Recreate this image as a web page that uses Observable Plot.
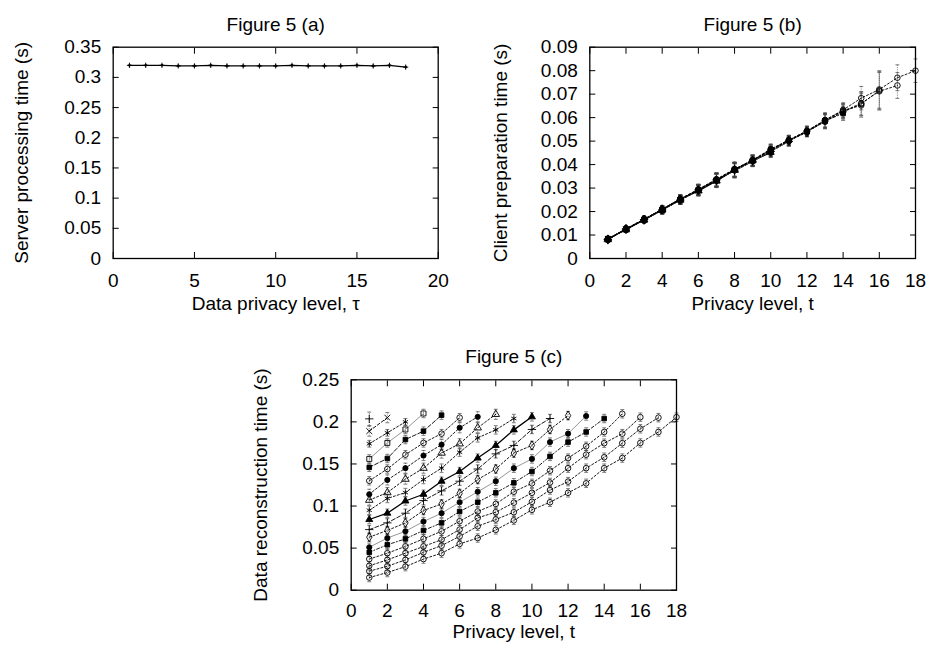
<!DOCTYPE html>
<html><head><meta charset="utf-8">
<script src="https://cdn.jsdelivr.net/npm/d3@7"></script>
<script src="https://cdn.jsdelivr.net/npm/@observablehq/plot@0.6"></script>
<style>
body{margin:0;background:#fff}
#wrap{position:relative;width:928px;height:649px;background:#fff}
.p{position:absolute}
</style>
</head><body><div id="wrap"></div>
<script>
// ---------- data ----------
const tLevels = [1,2,3,4,5,6,7,8,9,10,11,12,13,14,15,16,17,18];

// Figure 5 (a): server processing time vs data privacy level
const serverTime = [0.320,0.320,0.320,0.319,0.319,0.320,0.319,0.319,0.319,0.319,0.320,0.319,0.319,0.319,0.320,0.319,0.320,0.317];

// Figure 5 (b): client preparation time, series k covers t = 1..k
const clientTime = [
  [0.0080],
  [0.0083,0.0124],
  [0.0081,0.0126,0.0166],
  [0.0084,0.0123,0.0164,0.0205],
  [0.0080,0.0125,0.0167,0.0208,0.0251],
  [0.0082,0.0127,0.0165,0.0206,0.0248,0.0290],
  [0.0083,0.0124,0.0166,0.0210,0.0252,0.0292,0.0333],
  [0.0081,0.0126,0.0165,0.0207,0.0249,0.0289,0.0331,0.0376],
  [0.0082,0.0125,0.0168,0.0206,0.0250,0.0291,0.0334,0.0374,0.0413],
  [0.0083,0.0124,0.0164,0.0208,0.0253,0.0288,0.0330,0.0377,0.0416,0.0452],
  [0.0082,0.0126,0.0166,0.0207,0.0249,0.0292,0.0335,0.0373,0.0414,0.0456,0.0498],
  [0.0081,0.0125,0.0165,0.0209,0.0251,0.0290,0.0332,0.0378,0.0417,0.0454,0.0502,0.0538],
  [0.0083,0.0127,0.0167,0.0206,0.0250,0.0293,0.0336,0.0376,0.0415,0.0457,0.0499,0.0541,0.0582],
  [0.0082,0.0124,0.0166,0.0208,0.0252,0.0291,0.0334,0.0379,0.0418,0.0464,0.0503,0.0539,0.0586,0.0618],
  [0.0084,0.0126,0.0168,0.0210,0.0254,0.0295,0.0338,0.0381,0.0420,0.0466,0.0505,0.0543,0.0590,0.0630,0.0652],
  [0.0082,0.0125,0.0165,0.0207,0.0250,0.0292,0.0333,0.0377,0.0416,0.0458,0.0501,0.0540,0.0584,0.0624,0.0658,0.0716],
  [0.0083,0.0126,0.0167,0.0209,0.0253,0.0294,0.0336,0.0380,0.0419,0.0461,0.0504,0.0544,0.0587,0.0627,0.0661,0.0712,0.0737],
  [0.0082,0.0124,0.0166,0.0206,0.0251,0.0293,0.0335,0.0378,0.0417,0.0463,0.0502,0.0542,0.0589,0.0633,0.0683,0.0720,0.0770,0.0800]
];
// error half-widths for (b), by privacy level
const clientErr = [0.0010,0.0012,0.0013,0.0016,0.0018,0.0022,0.0028,0.0030,0.0022,0.0022,0.0020,0.0020,0.0030,0.0030,0.0050,0.0080,0.0055,0.0050];

// Figure 5 (c): data reconstruction time, series k covers t = 1..k
const reconTime = [
  [0.2036],
  [0.189,0.205],
  [0.174,0.187,0.200],
  [0.156,0.175,0.191,0.210],
  [0.146,0.1565,0.179,0.189,0.208],
  [0.130,0.144,0.161,0.175,0.186,0.205],
  [0.114,0.131,0.145,0.160,0.173,0.193,0.206],
  [0.107,0.116,0.132,0.145,0.163,0.174,0.193,0.209],
  [0.095,0.109,0.116,0.1315,0.145,0.164,0.181,0.1905,0.204],
  [0.084,0.0915,0.106,0.114,0.1295,0.141,0.157,0.172,0.1905,0.206],
  [0.072,0.080,0.0915,0.1065,0.118,0.1295,0.144,0.162,0.172,0.191,0.204],
  [0.063,0.071,0.080,0.0947,0.1025,0.115,0.1315,0.144,0.163,0.172,0.191,0.2075],
  [0.051,0.062,0.070,0.0816,0.0915,0.1045,0.117,0.1295,0.145,0.156,0.176,0.186,0.207],
  [0.045,0.054,0.061,0.071,0.080,0.0935,0.1045,0.1157,0.1276,0.141,0.159,0.176,0.188,0.204],
  [0.037,0.044,0.052,0.061,0.070,0.082,0.0935,0.1025,0.117,0.127,0.142,0.157,0.171,0.188,0.2096],
  [0.029,0.036,0.044,0.052,0.060,0.072,0.086,0.0927,0.104,0.1157,0.128,0.145,0.161,0.1747,0.186,0.2056],
  [0.0226,0.0285,0.036,0.045,0.053,0.064,0.076,0.084,0.0927,0.105,0.119,0.129,0.145,0.158,0.1747,0.1918,0.205],
  [0.015,0.021,0.028,0.037,0.044,0.055,0.062,0.0717,0.083,0.0955,0.1045,0.1157,0.127,0.145,0.157,0.175,0.188,0.2056]
];
// error half-widths for (c), by series
const reconErr = [0.008,0.006,0.004,0.005,0.005,0.005,0.006,0.006,0.005,0.005,0.005,0.005,0.005,0.005,0.005,0.005,0.005,0.005];

// tick labels
const aXTicks = [0,5,10,15,20];
const aYTicks = [0,0.05,0.1,0.15,0.2,0.25,0.3,0.35];
const bXTicks = [0,2,4,6,8,10,12,14,16,18];
const bYTicks = [0,0.01,0.02,0.03,0.04,0.05,0.06,0.07,0.08,0.09];
const cXTicks = [0,2,4,6,8,10,12,14,16,18];
const cYTicks = [0,0.05,0.1,0.15,0.2,0.25];

// series styles (gnuplot-like point types and dash types)
const seriesSymbol = ["plus","times","asterisk","square","square","circle","circle","triangle","asterisk","triangle","plus","diamond","circle","square","circle","circle","circle","circle"];
const seriesFill   = ["none","none","none","none","black","none","black","none","none","black","none","none","black","black","none","none","none","none"];
const seriesStroke = ["black","black","black","#8a8a8a","black","black","black","black","black","black","black","black","#8a8a8a","black","black","black","black","black"];
const seriesDash   = [null,"3,2","2,2",null,"4,2","2,2","2,2","2,2","2,2",null,"4,2","2,2",null,"3,2,1,2","2,2","2,2","2,2","2,2"];

// ---------- helpers ----------
const FONT = "Liberation Sans, Arial, Helvetica, sans-serif";
const fmt = d => String(d);
const capSym = {draw(ctx, size){ const w = Math.sqrt(size) * 0.55; ctx.moveTo(-w, 0); ctx.lineTo(w, 0); }};

function axesAndFrame(xT, yT, xPad) {
  return [
    Plot.axisX(xT, {anchor: "bottom", tickSize: 0, tickPadding: xPad, tickFormat: fmt, label: null}),
    Plot.axisY(yT, {anchor: "left", tickSize: 0, tickPadding: 12, tickFormat: fmt, label: null}),
    Plot.axisX(xT, {anchor: "bottom", tickSize: -6, tickFormat: () => "", label: null}),
    Plot.axisX(xT, {anchor: "top", tickSize: -6, tickFormat: () => "", label: null}),
    Plot.axisY(yT, {anchor: "left", tickSize: -6, tickFormat: () => "", label: null}),
    Plot.axisY(yT, {anchor: "right", tickSize: -6, tickFormat: () => "", label: null}),
    Plot.frame({stroke: "black", strokeWidth: 1.3})
  ];
}
function labels(title, xLabel, yLabel, yDx, xDy) {
  return [
    Plot.text([title], {frameAnchor: "top", dy: -30, fontSize: 19, fill: "black"}),
    Plot.text([xLabel], {frameAnchor: "bottom", dy: xDy, fontSize: 19, fill: "black"}),
    Plot.text([yLabel], {frameAnchor: "left", rotate: -90, dx: yDx, textAnchor: "middle", fontSize: 19, fill: "black"})
  ];
}
function place(chart, left, top) {
  const d = document.createElement("div");
  d.className = "p"; d.style.left = left + "px"; d.style.top = top + "px";
  d.appendChild(chart);
  document.getElementById("wrap").appendChild(d);
}
function buildRows(list, errFn) {
  const rows = [];
  list.forEach((vals, i) => vals.forEach((v, j) => rows.push({s: i, t: tLevels[j], v, e: errFn(i, j)})));
  return rows;
}
function seriesMarks(rows, nSeries, r, lw) {
  const marks = [];
  marks.push(Plot.ruleX(rows, {x: "t", y1: d => d.v - d.e, y2: d => d.v + d.e, stroke: "#444", strokeWidth: 0.7, strokeDasharray: "1,1.2"}));
  marks.push(Plot.dot(rows, {x: "t", y: d => d.v + d.e, symbol: capSym, r: 2, fill: "none", stroke: "#444", strokeWidth: 0.7}));
  marks.push(Plot.dot(rows, {x: "t", y: d => d.v - d.e, symbol: capSym, r: 2, fill: "none", stroke: "#444", strokeWidth: 0.7}));
  for (let i = 0; i < nSeries; i++) {
    const sub = rows.filter(d => d.s === i);
    marks.push(Plot.line(sub, {x: "t", y: "v", stroke: seriesStroke[i], strokeWidth: i === 9 ? 1.3 : lw, strokeDasharray: seriesDash[i]}));
  }
  for (let i = 0; i < nSeries; i++) {
    const sub = rows.filter(d => d.s === i);
    marks.push(Plot.dot(sub, {x: "t", y: "v", symbol: seriesSymbol[i], r: seriesFill[i] === "black" ? 2.6 : r,
      fill: seriesFill[i], stroke: "black", strokeWidth: 0.9}));
  }
  return marks;
}
const baseStyle = {fontFamily: FONT, fontSize: "19px", color: "black", background: "white", overflow: "visible"};

// ---------- Figure 5 (a) ----------
const rowsA = tLevels.map((t, i) => ({t, v: serverTime[i]}));
place(Plot.plot({
  width: 460, height: 310,
  marginTop: 46.7, marginRight: 22.3, marginBottom: 52, marginLeft: 112.7,
  style: baseStyle,
  x: {domain: [aXTicks[0], aXTicks[aXTicks.length - 1]]},
  y: {domain: [aYTicks[0], aYTicks[aYTicks.length - 1]]},
  marks: [
    Plot.line(rowsA, {x: "t", y: "v", stroke: "black", strokeWidth: 1.3}),
    Plot.dot(rowsA, {x: "t", y: "v", symbol: "plus", r: 1.8, stroke: "black", strokeWidth: 1}),
    Plot.dot(rowsA, {x: "t", y: "v", r: 1.3, fill: "black"}),
    ...axesAndFrame(aXTicks, aYTicks, 15),
    ...labels("Figure 5 (a)", "Data privacy level, τ", "Server processing time (s)", -91, 51.5)
  ]
}), 0, 0);

// ---------- Figure 5 (b) ----------
const rowsB = buildRows(clientTime, (i, j) => clientErr[j]);
place(Plot.plot({
  width: 468, height: 310,
  marginTop: 46.7, marginRight: 13, marginBottom: 52, marginLeft: 129.3,
  style: baseStyle,
  x: {domain: [bXTicks[0], bXTicks[bXTicks.length - 1]]},
  y: {domain: [bYTicks[0], bYTicks[bYTicks.length - 1]]},
  marks: [
    ...seriesMarks(rowsB, clientTime.length, 2.8, 0.9),
    ...axesAndFrame(bXTicks, bYTicks, 15),
    ...labels("Figure 5 (b)", "Privacy level, t", "Client preparation time (s)", -89, 51.5)
  ]
}), 460, 0);

// ---------- Figure 5 (c) ----------
const rowsC = buildRows(reconTime, (i, j) => reconErr[i]);
place(Plot.plot({
  width: 450, height: 319,
  marginTop: 49.3, marginRight: 24, marginBottom: 59.3, marginLeft: 100.7,
  style: baseStyle,
  x: {domain: [cXTicks[0], cXTicks[cXTicks.length - 1]]},
  y: {domain: [cYTicks[0], cYTicks[cYTicks.length - 1]]},
  marks: [
    ...seriesMarks(rowsC, reconTime.length, 2.8, 0.9),
    ...axesAndFrame(cXTicks, cYTicks, 13.5),
    ...labels("Figure 5 (c)", "Privacy level, t", "Data reconstruction time (s)", -90.7, 48)
  ]
}), 250, 330);
</script>
</body></html>
